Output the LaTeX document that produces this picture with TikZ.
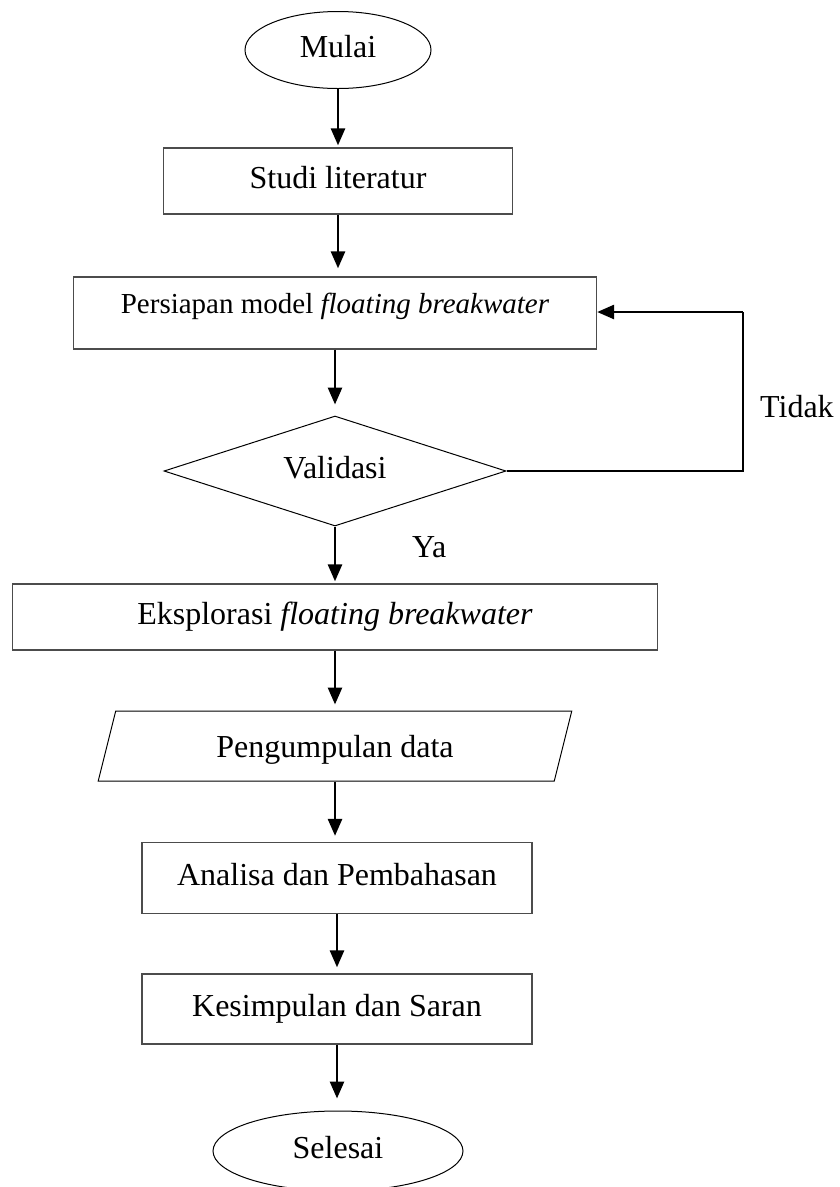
\documentclass[tikz,border=0pt]{standalone}
\usepackage{fontspec}
\setmainfont{Liberation Serif}
\usetikzlibrary{shapes.geometric,arrows.meta}

\begin{document}
\begin{tikzpicture}[x=1pt,y=-1pt,
    font=\fontsize{32}{38}\selectfont,
    kotak/.style={rectangle,draw=black!70,line width=1.3pt,inner sep=0pt,text height=22pt,text depth=8pt},
    bulat/.style={ellipse,draw,line width=1pt,inner sep=0pt,text height=22pt,text depth=8pt},
    keputusan/.style={diamond,draw,line width=1pt,aspect=3.1,inner sep=0pt,text height=22pt,text depth=8pt},
    jajar/.style={trapezium,draw,line width=1pt,trapezium left angle=76,trapezium right angle=104,
        trapezium stretches=true,inner sep=0pt},
    panah/.style={-{Triangle[length=17pt,width=14pt]},line width=2.7pt,shorten >=6pt},
    garis/.style={line width=1.2pt}]
  \useasboundingbox (0,0) rectangle (840,1187);
  % Langkah
  \node[bulat,minimum width=186pt,minimum height=77pt] (mulai) at (338,50) {Mulai};
  \node[kotak,minimum width=349pt,minimum height=66pt] (studi) at (338,181) {Studi literatur};
  \node[kotak,minimum width=523pt,minimum height=72pt,font=\fontsize{29}{35}\selectfont,
      text height=20pt,text depth=20pt] (persiapan) at (335,313) {Persiapan model \textit{floating breakwater}};
  \node[keputusan,minimum width=342pt,minimum height=110pt] (validasi) at (335,471) {Validasi};
  \node[kotak,minimum width=645pt,minimum height=66pt] (eksplorasi) at (335,617) {Eksplorasi \textit{floating breakwater}};
  \node[jajar,minimum width=475pt,minimum height=70pt,text height=30pt,text depth=8pt] (data) at (335,746) {Pengumpulan data};
  \node[kotak,minimum width=390pt,minimum height=71pt] (analisa) at (337,878) {Analisa dan Pembahasan};
  \node[kotak,minimum width=390pt,minimum height=70pt] (kesimpulan) at (337,1009) {Kesimpulan dan Saran};
  \node[bulat,minimum width=250pt,minimum height=80pt] (selesai) at (338,1151) {Selesai};
  % Keterangan
  \node[anchor=base west,inner sep=0pt] (ya) at (412,557) {Ya};
  \node[anchor=base west,inner sep=0pt] (tidak) at (760,417) {Tidak};
  % Panah
  \draw[panah,shorten >=2pt] (mulai.south) -- (mulai.south |- studi.north);
  \draw[panah,shorten >=8pt] (studi.south) -- (studi.south |- persiapan.north);
  \draw[panah,shorten >=11pt] (persiapan.south) -- (persiapan.south |- validasi.north);
  \draw[panah,shorten >=2pt] (validasi.south) -- (validasi.south |- eksplorasi.north);
  \draw[panah] (eksplorasi.south) -- (eksplorasi.south |- data.north);
  \draw[panah] (data.south) -- (data.south |- analisa.north);
  \draw[panah] (analisa.south) -- (analisa.south |- kesimpulan.north);
  \draw[panah,shorten >=12pt] (kesimpulan.south) -- (kesimpulan.south |- selesai.north);
  % Kembali
  \coordinate (pojok1) at (743,471);
  \coordinate (pojok2) at (743,312);
  \draw[garis] (validasi.east) -- (pojok1) -- (pojok2);
  \draw[panah,shorten >=0pt] (pojok2) -- (persiapan.east |- pojok2);
\end{tikzpicture}
\end{document}
